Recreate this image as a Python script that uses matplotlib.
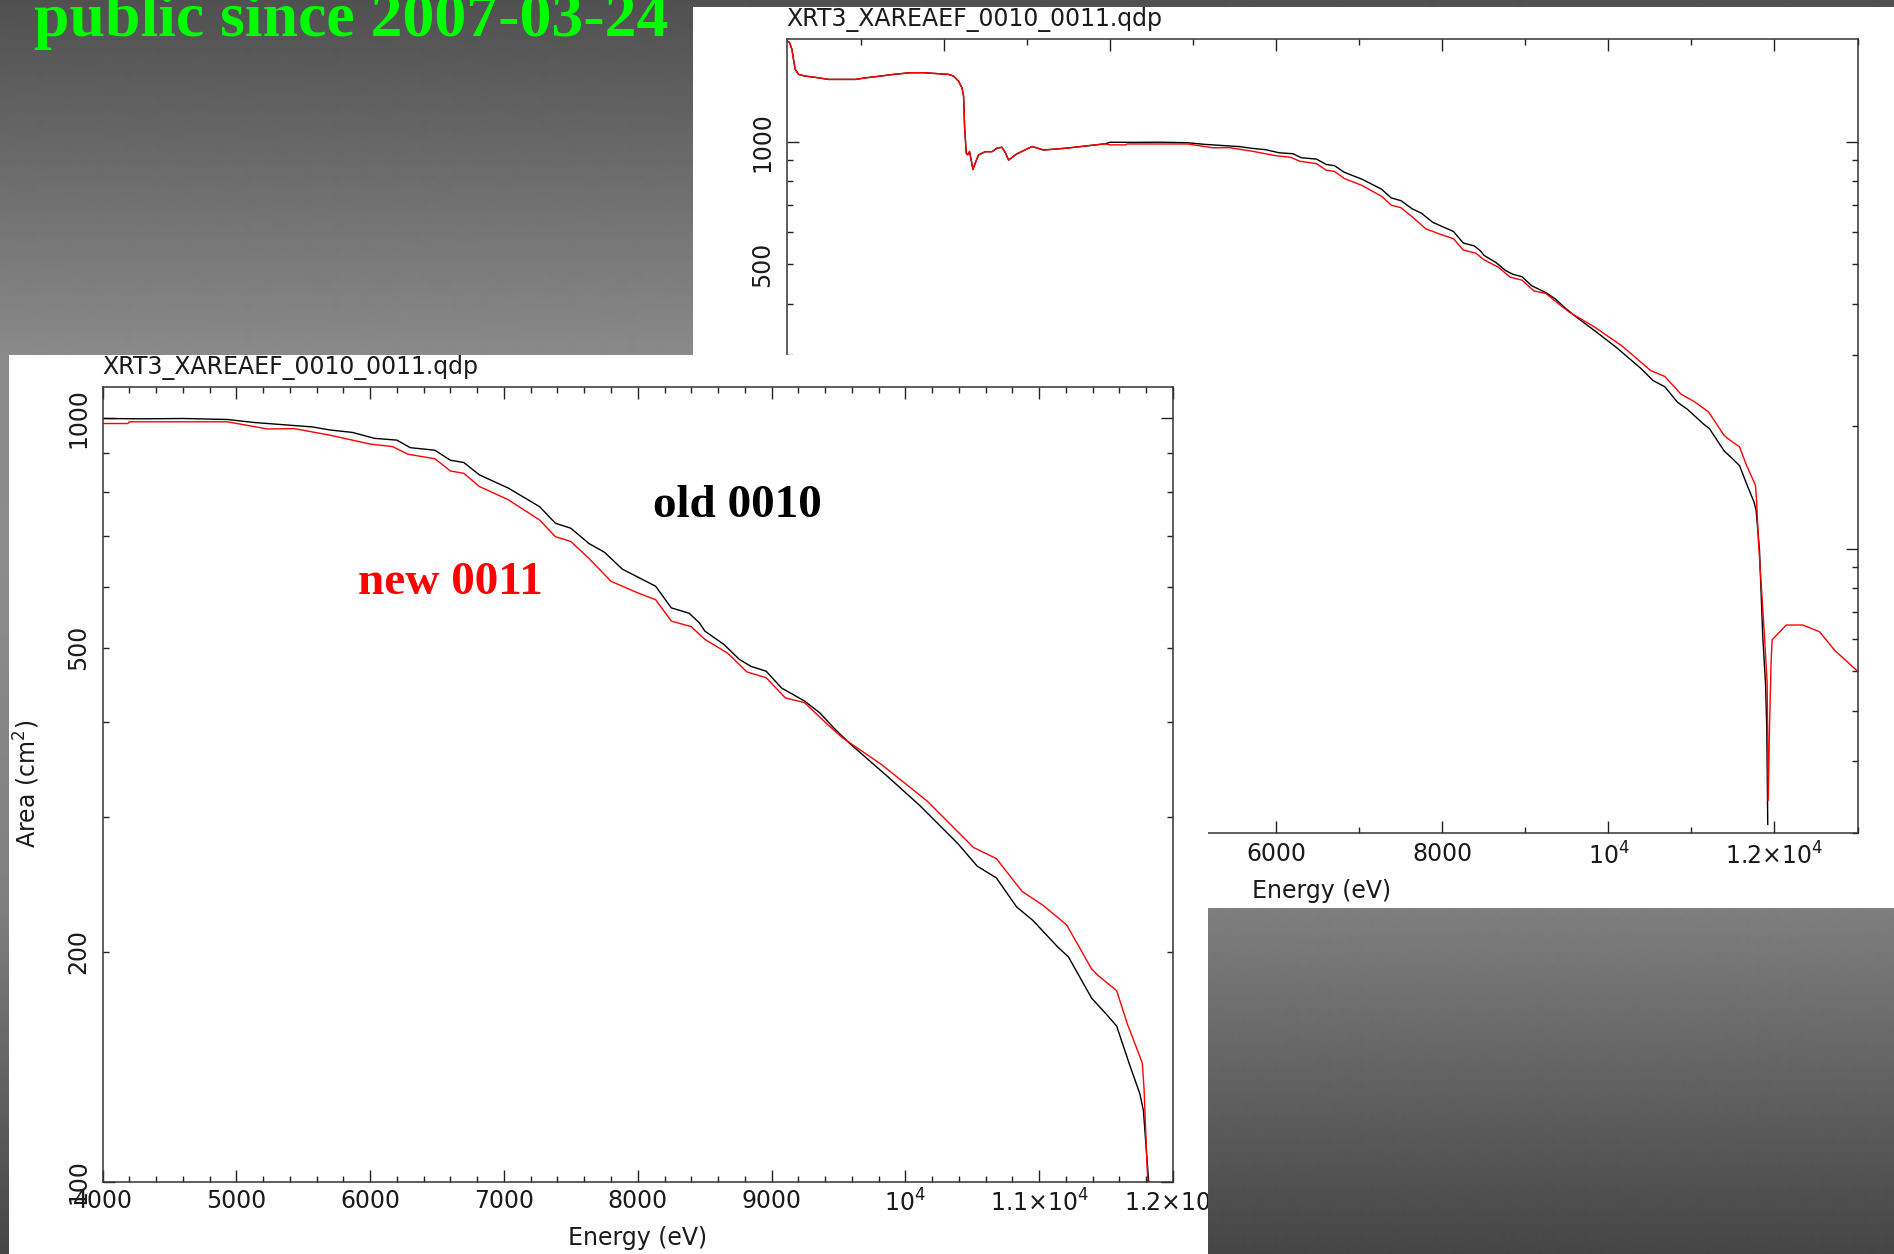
import numpy as np
import matplotlib
matplotlib.use("Agg")
import matplotlib.pyplot as plt
from matplotlib.patches import Rectangle
from matplotlib.ticker import FixedLocator, FixedFormatter, FuncFormatter

W, H = 1894, 1254

# effective area (cm^2) vs energy (eV); below 4 keV both files agree
low_energy = [105, 136, 165, 184, 205, 245, 325, 425, 606, 928, 1069, 1229, 1389, 1590,
              1751, 2052, 2112, 2172, 2213, 2233, 2245, 2265, 2281, 2305, 2346, 2373,
              2413, 2494, 2575, 2635, 2695, 2735, 2775, 2873, 3058, 3196, 3473, 3937]
low_area = [1771, 1755, 1689, 1596, 1508, 1465, 1451, 1443, 1424, 1424, 1438, 1451, 1465,
            1479, 1479, 1465, 1451, 1410, 1358, 1295, 1091, 938, 929, 946, 855, 886,
            929, 946, 946, 965, 970, 941, 902, 934, 974, 955, 965, 989]

# old 0010
old_energy = [4000, 4300, 4600, 4934, 5134, 5334, 5567, 5701, 5867, 6034, 6200, 6300, 6484,
              6600, 6700, 6817, 7034, 7267, 7384, 7500, 7634, 7751, 7884, 8134, 8251,
              8384, 8461, 8501, 8645, 8759, 8845, 8960, 9075, 9246, 9361, 9476, 9591,
              9878, 10107, 10394, 10537, 10680, 10832, 10952, 11139, 11219, 11392,
              11499, 11579, 11672, 11752, 11779, 11819, 11859, 11892, 11907, 11919]
old_area = [998, 997, 998, 995, 986, 980, 973, 964, 957, 940, 935, 914, 907,
            880, 874, 842, 809, 765, 728, 717, 685, 667, 634, 602, 564,
            555, 539, 526, 505, 483, 473, 466, 443, 426, 411, 391, 374,
            338, 311, 277, 259, 250, 229, 220, 203, 197, 174,
            166, 160, 143, 130.5, 124, 99.6, 60.8, 46.6, 36.4, 21.0]

# new 0011
new_energy = [4000, 4190, 4200, 4934, 5234, 5433, 5701, 6000, 6167, 6284, 6484, 6600, 6700,
              6817, 7034, 7267, 7384, 7500, 7634, 7801, 8001, 8134, 8251, 8400, 8501,
              8673, 8816, 8960, 9103, 9246, 9418, 9533, 9820, 10164, 10509, 10680,
              10872, 11032, 11205, 11392, 11445, 11579, 11659, 11752, 11771, 11784,
              11806, 11880, 11912, 11924, 11940, 11960, 11972, 12141, 12341, 12542,
              12723, 12944, 13000]
new_area = [983, 983, 988, 988, 967, 968, 949, 924, 917, 896, 884, 852, 846,
            813, 781, 735, 699, 689, 655, 611, 590, 578, 542, 533, 513,
            492, 465, 457, 430, 424, 397, 381, 352, 315, 274, 265,
            240, 230, 217, 190, 186, 178, 161, 146, 143, 132,
            105, 60.8, 46.6, 24.0, 36.4, 53.2, 59.7, 64.9, 64.9, 62.5,
            56.3, 51.2, 50.0]

slide_title = "public since 2007-03-24"
qdp_title = "XRT3_XAREAEF_0010_0011.qdp"
old_label = "old 0010"
new_label = "new 0011"

wide_xticks = [2000, 4000, 6000, 8000, 10000, 12000]
wide_xlabels = ["2000", "4000", "6000", "8000", r"$10^4$", r"$1.2{\times}10^4$"]
wide_yticks = [20, 50, 100, 200, 500, 1000]

zoom_xticks = [4000, 5000, 6000, 7000, 8000, 9000, 10000, 11000, 12000]
zoom_xlabels = ["4000", "5000", "6000", "7000", "8000", "9000",
                r"$10^4$", r"$1.1{\times}10^4$", r"$1.2{\times}10^4$"]
zoom_yticks = [100, 200, 500, 1000]

# slide background shading (pixel row -> grey level)
grad_y = [0, 355, 560, 800, 908, 1254]
grad_v = [80, 138, 140, 132, 127, 70]

plt.rcParams["font.family"] = ["DejaVu Sans"]
plt.rcParams["mathtext.fontset"] = "dejavusans"

fig = plt.figure(figsize=(W / 100, H / 100), dpi=100)


def frame(left, top, right, bottom, z):
    return fig.add_axes([left / W, 1 - bottom / H, (right - left) / W, (bottom - top) / H],
                        zorder=z)


def shade(left, top, right, bottom, z):
    ax = frame(left, top, right, bottom, z)
    rows = np.interp(np.arange(top, bottom) + 0.5, grad_y, grad_v) / 255
    ax.imshow(rows[:, None], cmap="gray", vmin=0, vmax=1, aspect="auto",
              interpolation="bilinear")
    ax.set_axis_off()
    return ax


def sheet(left, top, right, bottom, z):
    fig.add_artist(Rectangle((left / W, 1 - bottom / H), (right - left) / W,
                             (bottom - top) / H, transform=fig.transFigure,
                             facecolor="white", edgecolor="none", zorder=z))


def qdp_plot(ax, xlim, ylim, xticks, xlabels, xminor, ylabels, xpad, xlab_y):
    ax.plot(low_energy + old_energy, low_area + old_area, color="black", lw=1.0)
    ax.plot(low_energy + new_energy, low_area + new_area, color="#ff0000", lw=1.0)
    ax.set_yscale("log")
    ax.set_xlim(xlim)
    ax.set_ylim(ylim)
    ax.xaxis.set_major_locator(FixedLocator(xticks))
    ax.xaxis.set_major_formatter(FixedFormatter(xlabels))
    ax.xaxis.set_minor_locator(FixedLocator(xminor))
    decades = [10, 100, 1000]
    ax.yaxis.set_major_locator(FixedLocator(decades))
    ax.yaxis.set_minor_locator(FixedLocator([m * d for d in decades for m in range(2, 10)]))
    fmt = FuncFormatter(lambda v, p: "%d" % round(v) if round(v) in ylabels else "")
    ax.yaxis.set_major_formatter(fmt)
    ax.yaxis.set_minor_formatter(fmt)
    ax.tick_params(which="both", direction="in", top=True, right=True, width=1.0,
                   color="#222222", labelsize=17, labelcolor="#1a1a1a")
    ax.tick_params(which="major", length=8.4)
    ax.tick_params(which="minor", length=4.1)
    ax.tick_params(axis="x", which="both", pad=xpad)
    ax.tick_params(axis="y", which="both", pad=9, labelrotation=90)
    for t in ax.yaxis.get_major_ticks() + ax.yaxis.get_minor_ticks():
        t.label1.set_verticalalignment("center")
    for s in ax.spines.values():
        s.set_linewidth(1.1)
        s.set_color("#333333")
    h = ax.get_position().height * H
    ax.text(0, 1 + 13 / h, qdp_title, transform=ax.transAxes, fontsize=17,
            color="#1a1a1a", va="baseline", ha="left")
    ax.text(0.5, xlab_y, "Energy (eV)", transform=ax.transAxes, fontsize=17,
            color="#1a1a1a", va="center", ha="center")
    ax.text(-0.0709, 0.5, "Area (cm$^2$)", transform=ax.transAxes, fontsize=17,
            color="#1a1a1a", va="center", ha="center", rotation=90)


shade(0, 0, W, H, 0)

# wide-band panel (top right)
sheet(692.7, 6.7, W, 908, 1)
wide = frame(786.5, 38.5, 1857.5, 833, 2)
qdp_plot(wide, (100, 13000), (20, 1795), wide_xticks, wide_xlabels,
         list(range(1000, 13001, 1000)), wide_yticks, 6.5, -0.0725)

# zoomed panel (bottom left)
sheet(9, 355, 1208, H, 3)
zoom = frame(102.5, 386.5, 1173, 1182, 4)
qdp_plot(zoom, (4000, 12000), (100, 1099), zoom_xticks, zoom_xlabels,
         list(range(4000, 12001, 200)), zoom_yticks, 5, -0.071)

# background again where the zoomed sheet ends
shade(1208, 908, W, H, 5)

fig.text(34 / W, 1 - 36 / H, slide_title, family="Liberation Serif", weight="bold",
         color="#00ff00", fontsize=46, va="baseline", ha="left", zorder=6)
fig.text(653 / W, 1 - 517 / H, old_label, family="Liberation Serif", weight="bold",
         color="black", fontsize=34, va="baseline", ha="left", zorder=6)
fig.text(358 / W, 1 - 594 / H, new_label, family="Liberation Serif", weight="bold",
         color="#ff0000", fontsize=34, va="baseline", ha="left", zorder=6)

fig.savefig("out.png", dpi=100)
